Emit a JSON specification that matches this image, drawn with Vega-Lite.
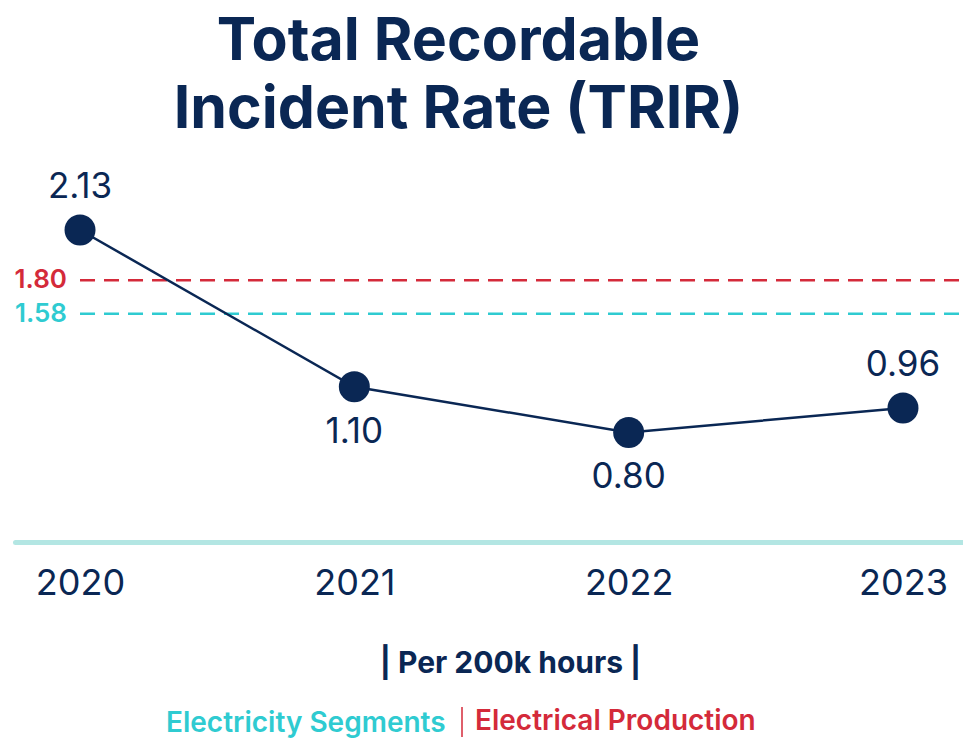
{
  "$schema": "https://vega.github.io/schema/vega-lite/v6.json",
  "width": 953,
  "height": 382,
  "autosize": {"type": "none"},
  "padding": {"left": 15, "top": 160, "right": 0, "bottom": 198},
  "background": "white",
  "config": {"view": {"stroke": null}, "font": "Inter"},
  "title": {
    "text": ["Total Recordable", "Incident Rate (TRIR)"],
    "fontSize": 59,
    "fontWeight": "bold",
    "color": "#0a2754",
    "lineHeight": 68,
    "anchor": "middle",
    "frame": "group",
    "offset": 20,
    "dx": -33
  },
  "datasets": {
    "trir": [
      {"year": "2020", "trir": 2.13, "label": "2.13", "pos": "above"},
      {"year": "2021", "trir": 1.10, "label": "1.10", "pos": "below"},
      {"year": "2022", "trir": 0.80, "label": "0.80", "pos": "below"},
      {"year": "2023", "trir": 0.96, "label": "0.96", "pos": "above"}
    ],
    "bench": [
      {"group": "Electrical Production", "value": 1.80, "label": "1.80"},
      {"group": "Electricity Segments", "value": 1.58, "label": "1.58"}
    ]
  },
  "encoding": {
    "x": {
      "field": "year",
      "type": "ordinal",
      "scale": {"type": "point", "padding": 0.237},
      "axis": {
        "orient": "bottom",
        "domain": true,
        "domainColor": "#b3e6e3",
        "domainWidth": 5,
        "domainCap": "round",
        "ticks": false,
        "tickSize": 0,
        "grid": false,
        "labelAngle": 0,
        "labelFontSize": 36,
        "labelColor": "#0a2754",
        "labelPadding": 24,
        "title": "| Per 200k hours |",
        "titleFontSize": 30,
        "titleFontWeight": "bold",
        "titleColor": "#0a2754",
        "titleX": 495,
        "titleY": 121,
        "titleBaseline": "middle"
      }
    },
    "y": {
      "field": "trir",
      "type": "quantitative",
      "scale": {"domain": [0.08, 2.59], "nice": false, "zero": false},
      "axis": null
    }
  },
  "layer": [
    {
      "data": {"name": "bench"},
      "mark": {"type": "rule", "strokeDash": [15, 9], "strokeWidth": 2.5},
      "encoding": {
        "x": {"datum": "2020", "type": "ordinal"},
        "x2": {"value": "width"},
        "y": {"field": "value", "type": "quantitative"},
        "color": {
          "field": "group",
          "type": "nominal",
          "scale": {
            "domain": ["Electricity Segments", "Electrical Production"],
            "range": ["#2fcbd1", "#d42a3a"]
          },
          "legend": {
            "orient": "none",
            "legendX": 122,
            "legendY": 546,
            "direction": "horizontal",
            "title": null,
            "labelFontSize": 28,
            "labelFontWeight": 600,
            "labelLimit": 400,
            "symbolType": "M0,-1L0,1",
            "symbolSize": 900,
            "symbolStrokeWidth": 1.5,
            "labelOffset": -3,
            "columnPadding": -5,
            "encode": {
              "labels": {"update": {"fill": {"signal": "scale('color', datum.value)"}}},
              "symbols": {
                "update": {
                  "stroke": {"value": "#0a2754"},
                  "fill": {"value": "transparent"},
                  "opacity": {"signal": "datum.index === 0 ? 0 : 1"},
                  "strokeDash": {"value": []}
                }
              }
            }
          }
        }
      }
    },
    {
      "data": {"name": "bench"},
      "mark": {"type": "text", "align": "right", "baseline": "middle", "dx": -13, "fontSize": 26, "fontWeight": 600},
      "encoding": {
        "x": {"datum": "2020", "type": "ordinal"},
        "y": {"field": "value", "type": "quantitative"},
        "text": {"field": "label"},
        "color": {"field": "group", "type": "nominal"}
      }
    },
    {
      "data": {"name": "trir"},
      "mark": {"type": "line", "color": "#0a2754", "strokeWidth": 2.5},
      "encoding": {}
    },
    {
      "data": {"name": "trir"},
      "mark": {"type": "circle", "color": "#0a2754", "size": 960, "opacity": 1},
      "encoding": {}
    },
    {
      "data": {"name": "trir"},
      "transform": [{"filter": "datum.pos == 'above'"}],
      "mark": {"type": "text", "baseline": "middle", "dy": -43, "fontSize": 35, "color": "#0a2754"},
      "encoding": {"text": {"field": "label"}}
    },
    {
      "data": {"name": "trir"},
      "transform": [{"filter": "datum.pos == 'below'"}],
      "mark": {"type": "text", "baseline": "middle", "dy": 45, "fontSize": 35, "color": "#0a2754"},
      "encoding": {"text": {"field": "label"}}
    }
  ]
}
